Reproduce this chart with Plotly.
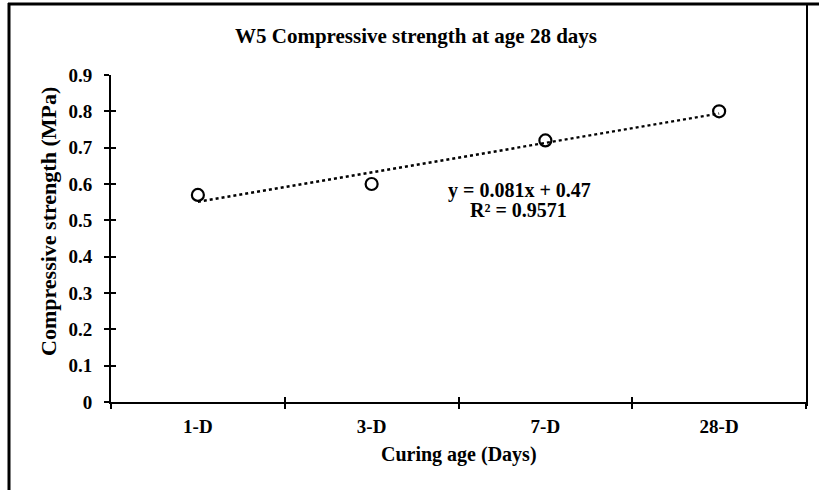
import plotly.graph_objects as go

categories = ["1-D", "3-D", "7-D", "28-D"]
strength = [0.57, 0.60, 0.72, 0.80]
slope = 0.081
intercept = 0.47
r2 = 0.9571
y_ticks = [0, 0.1, 0.2, 0.3, 0.4, 0.5, 0.6, 0.7, 0.8, 0.9]
y_tick_text = ["0", "0.1", "0.2", "0.3", "0.4", "0.5", "0.6", "0.7", "0.8", "0.9"]

trend_y = [slope * (i + 1) + intercept for i in range(len(categories))]

W, H = 819, 490
ml, mr, mt, mb = 111, 13, 75, 88
PW, PH = W - ml - mr, H - mt - mb
FONT = "Liberation Serif"


def px(xp):
    return (xp - ml) / PW


def py(yp):
    return 1 - (yp - mt) / PH


fig = go.Figure()
fig.add_trace(go.Scatter(x=categories, y=trend_y, mode="lines",
                         line=dict(color="black", width=2.4, dash="dot"),
                         showlegend=False, hoverinfo="skip"))
fig.add_trace(go.Scatter(x=categories, y=strength, mode="markers",
                         marker=dict(symbol="circle-open", size=12,
                                     color="black", line=dict(width=2.2, color="black")),
                         showlegend=False))

tick_font = dict(family=FONT, size=19, color="black", weight="bold")
fig.update_layout(
    width=W, height=H,
    margin=dict(l=ml, r=mr, t=mt, b=mb),
    paper_bgcolor="white", plot_bgcolor="white",
    font=dict(family=FONT, color="black"),
    xaxis=dict(type="category", range=[-0.5, 3.5], tickson="boundaries",
               ticks="outside", ticklen=5, tickwidth=1.5, tickcolor="black",
               showline=True, linecolor="black", linewidth=1.8, showgrid=False,
               zeroline=False, ticklabelstandoff=6, tickfont=tick_font),
    yaxis=dict(range=[0, 0.9], tickvals=y_ticks, ticktext=y_tick_text,
               ticks="outside", ticklen=5, tickwidth=1.5, tickcolor="black",
               showline=True, linecolor="black", linewidth=1.8, showgrid=False,
               zeroline=False, ticklabelstandoff=8, tickfont=tick_font),
    yaxis2=dict(range=[0, 0.9], tickvals=y_ticks, overlaying="y", side="left",
                ticks="inside", ticklen=5, tickwidth=1.5, tickcolor="black",
                showticklabels=False, showgrid=False, zeroline=False, showline=False),
    xaxis2=dict(range=[0, 4], tickvals=[0, 1, 2, 3, 4], overlaying="x", side="bottom",
                ticks="inside", ticklen=5, tickwidth=1.5, tickcolor="black",
                showticklabels=False, showgrid=False, zeroline=False, showline=False),
)
# invisible trace to activate the inside-tick overlay axes
fig.add_trace(go.Scatter(x=[0, 4], y=[0, 0.9], xaxis="x2", yaxis="y2", mode="markers",
                         marker=dict(opacity=0), showlegend=False, hoverinfo="skip"))

fig.add_annotation(text="<b>W5 Compressive strength at age 28 days</b>",
                   xref="paper", yref="paper", x=px(416), y=py(36), showarrow=False,
                   font=dict(family=FONT, size=21, color="black"),
                   xanchor="center", yanchor="middle")
fig.add_annotation(text="<b>Compressive strength (MPa)</b>", textangle=-90,
                   xref="paper", yref="paper", x=px(48), y=py(222), showarrow=False,
                   font=dict(family=FONT, size=22, color="black"),
                   xanchor="center", yanchor="middle")
fig.add_annotation(text="<b>Curing age (Days)</b>",
                   xref="paper", yref="paper", x=0.5, y=py(454), showarrow=False,
                   font=dict(family=FONT, size=20, color="black"),
                   xanchor="center", yanchor="middle")
fig.add_annotation(text=f"<b>y = {slope}x + {intercept}</b>",
                   xref="paper", yref="paper", x=px(519), y=py(190), showarrow=False,
                   font=dict(family=FONT, size=20, color="black"),
                   xanchor="center", yanchor="middle")
fig.add_annotation(text=f"<b>R² = {r2}</b>",
                   xref="paper", yref="paper", x=px(518), y=py(210), showarrow=False,
                   font=dict(family=FONT, size=20, color="black"),
                   xanchor="center", yanchor="middle")

# outer frame lines
fig.add_shape(type="line", xref="paper", yref="paper",
              x0=px(9), x1=px(9), y0=py(3), y1=py(H + 5),
              line=dict(color="black", width=3))
fig.add_shape(type="line", xref="paper", yref="paper",
              x0=px(8), x1=px(W + 5), y0=py(4), y1=py(4),
              line=dict(color="black", width=3))
fig.add_shape(type="line", xref="paper", yref="paper",
              x0=px(807), x1=px(807), y0=py(4), y1=py(406),
              line=dict(color="black", width=2))

fig.write_html("out.html")
